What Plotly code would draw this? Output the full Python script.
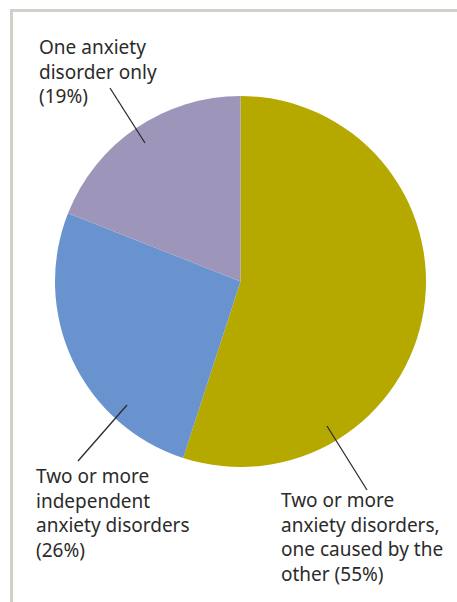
import plotly.graph_objects as go

categories = [
    "Two or more anxiety disorders, one caused by the other",
    "Two or more independent anxiety disorders",
    "One anxiety disorder only",
]
values = [55, 26, 19]
colors = ["#B5A900", "#6893CE", "#9D96BA"]
label_texts = [
    "Two or more<br>anxiety disorders,<br>one caused by the<br>other (55%)",
    "Two or more<br>independent<br>anxiety disorders<br>(26%)",
    "One anxiety<br>disorder only<br>(19%)",
]

W, H = 457, 602

def px(x):
    return x / W

def py(y):
    return 1 - y / H

fig = go.Figure(go.Pie(
    labels=categories,
    values=values,
    sort=False,
    direction="clockwise",
    rotation=0,
    marker=dict(colors=colors, line=dict(width=0)),
    textinfo="none",
    hoverinfo="label+percent",
    showlegend=False,
    domain=dict(x=[px(55), px(426)], y=[py(467), py(96)]),
))

font = dict(family="Noto Sans, Open Sans, sans-serif", size=19, color="#2b2b2b")

# label positions (left x, top y in pixels)
label_pos = [(279, 485), (34, 461), (37, 32)]
for txt, (lx, ly) in zip(label_texts, label_pos):
    fig.add_annotation(
        text=txt, x=px(lx), y=py(ly), xref="paper", yref="paper",
        xanchor="left", yanchor="top", align="left", showarrow=False,
        font=font,
    )

# leader lines
leaders = [((327, 426), (367, 490)), ((127, 405), (78, 461)), ((145, 143), (110, 88))]
for (x0, y0), (x1, y1) in leaders:
    fig.add_shape(type="line", xref="paper", yref="paper",
                  x0=px(x0), y0=py(y0), x1=px(x1), y1=py(y1),
                  line=dict(color="#2b2b2b", width=1.3))

# frame lines
fig.add_shape(type="line", xref="paper", yref="paper",
              x0=px(11), y0=py(10.5), x1=1.0, y1=py(10.5),
              line=dict(color="#D5CFCA", width=3))
fig.add_shape(type="line", xref="paper", yref="paper",
              x0=px(11.5), y0=py(9), x1=px(11.5), y1=0,
              line=dict(color="#D5CFCA", width=3))

fig.update_layout(
    width=W, height=H,
    margin=dict(l=0, r=0, t=0, b=0),
    paper_bgcolor="white", plot_bgcolor="white",
)

fig.write_html(
    "out.html",
    config={"displayModeBar": False},
    post_script="document.body.style.margin='0';document.body.style.overflow='hidden';",
)
